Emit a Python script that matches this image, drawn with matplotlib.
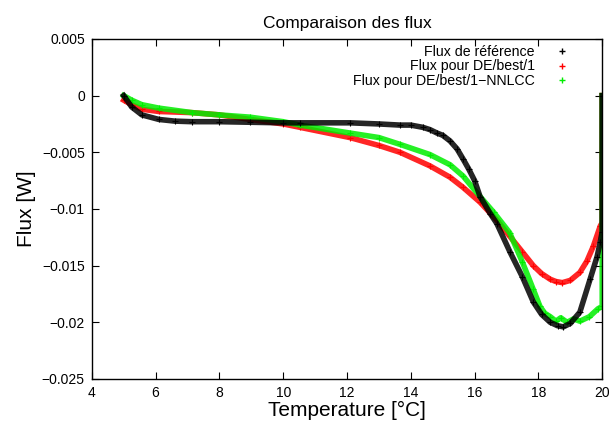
import matplotlib
matplotlib.use("Agg")
import matplotlib.pyplot as plt
from matplotlib.lines import Line2D

plt.rcParams['font.family'] = ['Liberation Sans', 'DejaVu Sans']

# Temperature [°C] and flux [W]
temp_ref = [5.0, 5.25, 5.57, 6.1, 6.6, 7.14, 8.0, 8.96, 10.0, 10.53, 12.09, 13.0, 13.66,
            14.0, 14.38, 14.6, 14.82, 15.0, 15.23, 15.45, 15.64, 15.82, 16.0, 16.17,
            16.49, 16.7, 17.11, 17.5, 17.84, 18.1, 18.37, 18.6, 18.78, 19.0, 19.3,
            19.62, 19.84, 19.94, 20.0, 20.0]
flux_ref = [0.0, -0.001, -0.0017, -0.0021, -0.00225, -0.0023, -0.0023, -0.00235,
            -0.0024, -0.0024, -0.0024, -0.0025, -0.0026, -0.0026, -0.0028, -0.003,
            -0.0033, -0.0035, -0.004, -0.0047, -0.0056, -0.0065, -0.0075, -0.0089,
            -0.0104, -0.0113, -0.0138, -0.016, -0.0182, -0.0193, -0.02, -0.0203,
            -0.0204, -0.0201, -0.0191, -0.0162, -0.0142, -0.0129, -0.012, 0.0]

temp_de = [5.0, 5.25, 5.57, 6.1, 7.14, 8.0, 8.96, 10.0, 10.53, 12.09, 13.0, 13.66,
           14.6, 15.23, 15.64, 16.17, 16.7, 17.1, 17.5, 17.84, 18.1, 18.37, 18.55,
           18.75, 19.0, 19.3, 19.52, 19.72, 19.94, 20.0, 20.0]
flux_de = [-0.0004, -0.0008, -0.0012, -0.0014, -0.0015, -0.0017, -0.0021, -0.0025,
           -0.0028, -0.0037, -0.0044, -0.005, -0.0062, -0.0072, -0.0081, -0.0094,
           -0.011, -0.0124, -0.0138, -0.015, -0.0157, -0.0162, -0.0164, -0.0165,
           -0.0163, -0.0156, -0.0146, -0.0133, -0.0115, -0.0112, 0.0]

temp_nnlcc = [5.0, 5.25, 5.57, 6.1, 7.14, 8.0, 8.96, 10.0, 10.53, 12.09, 13.0, 13.66,
              14.6, 15.23, 15.64, 16.17, 16.6, 17.1, 17.5, 17.84, 18.05, 18.2, 18.37,
              18.55, 18.7, 18.9, 19.1, 19.3, 19.6, 19.87, 20.0, 20.0]
flux_nnlcc = [0.0, -0.0004, -0.0008, -0.0011, -0.0015, -0.0017, -0.0019, -0.0023,
              -0.0026, -0.0033, -0.0037, -0.0043, -0.0052, -0.0061, -0.0071, -0.0089,
              -0.0103, -0.0121, -0.0147, -0.0171, -0.0186, -0.0192, -0.0195, -0.0199,
              -0.0196, -0.02, -0.0197, -0.0199, -0.0195, -0.0188, -0.0186, 0.0]

labels = ['Flux de référence', 'Flux pour DE/best/1', 'Flux pour DE/best/1\u2212NNLCC']
colors = ['black', '#ff0000', '#00ee00']

x_ticks = [4, 6, 8, 10, 12, 14, 16, 18, 20]
y_ticks = [-0.025, -0.02, -0.015, -0.01, -0.005, 0, 0.005]
y_tick_labels = ['\u22120.025', '\u22120.02', '\u22120.015', '\u22120.01', '\u22120.005', '0', '0.005']

fig = plt.figure(figsize=(6.12, 4.28), dpi=100)
ax = fig.add_axes([0.150, 0.1145, 0.834, 0.7945])

series = [(temp_ref, flux_ref), (temp_de, flux_de), (temp_nnlcc, flux_nnlcc)]
order = [1, 2, 0]
for i in order:
    t, f = series[i]
    z = 3 if i == 0 else 2
    ax.plot(t, f, color=colors[i], lw=4.0, alpha=0.85, solid_joinstyle='round',
            zorder=z)
    ax.plot(t, f, '+', color=colors[i], ms=5, mew=0.8, zorder=z)

ax.set_xlim(4, 20)
ax.set_ylim(-0.025, 0.005)
ax.set_xticks(x_ticks)
ax.set_yticks(y_ticks)
ax.set_yticklabels(y_tick_labels)
ax.tick_params(direction='in', top=True, right=True, length=5, width=0.8,
               labelsize=10, pad=5)
for s in ax.spines.values():
    s.set_linewidth(1.0)

ax.set_title('Comparaison des flux', fontsize=12.5, pad=8)
ax.set_xlabel('Temperature [°C]', fontsize=15, labelpad=1)
ax.set_ylabel('Flux [W]', fontsize=15, labelpad=4)

handles = [Line2D([], [], ls='none', marker='+', color=c, ms=5, mew=1.0) for c in colors]
ax.legend(handles, labels, loc='upper right', bbox_to_anchor=(0.962, 1.012),
          frameon=False, markerfirst=False, fontsize=10.2, handlelength=1.5,
          handletextpad=1.2, labelspacing=0.05, borderaxespad=0.3)
for txt in ax.get_legend().get_texts():
    txt.set_ha('right')
ax.get_legend()._legend_box.align = 'right'

fig.savefig('out.png', dpi=100)
